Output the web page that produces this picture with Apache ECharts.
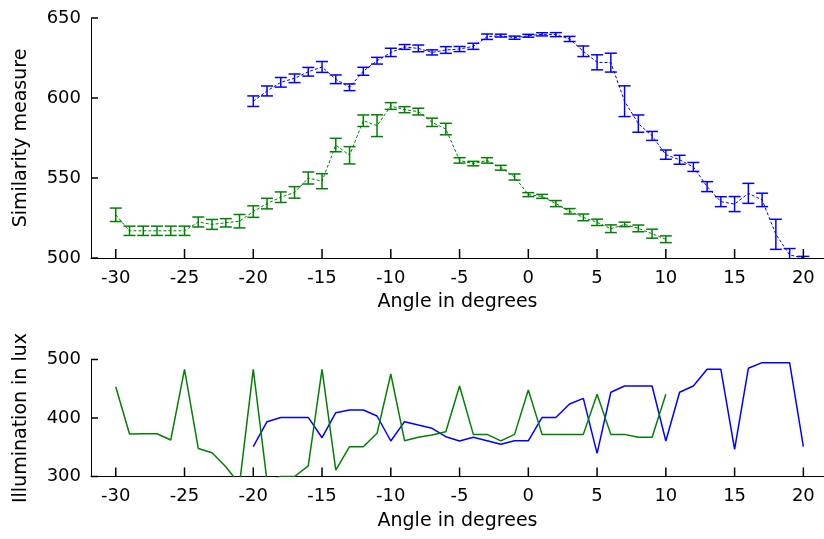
<!DOCTYPE html>
<html>
<head>
<meta charset="utf-8">
<script src="https://cdn.jsdelivr.net/npm/echarts@6/dist/echarts.min.js"></script>
<style>
html,body{margin:0;padding:0;background:#fff;}
#chart{width:824px;height:539px;}
</style>
</head>
<body>
<div id="chart"></div>
<script>
// ---- data ----
var anglesGreen = [-30,-29,-28,-27,-26,-25,-24,-23,-22,-21,-20,-19,-18,-17,-16,-15,-14,-13,-12,-11,-10,-9,-8,-7,-6,-5,-4,-3,-2,-1,0,1,2,3,4,5,6,7,8,9,10];
var anglesBlue = [-20,-19,-18,-17,-16,-15,-14,-13,-12,-11,-10,-9,-8,-7,-6,-5,-4,-3,-2,-1,0,1,2,3,4,5,6,7,8,9,10,11,12,13,14,15,16,17,18,19,20];

var simGreen = [527,517,517,517,517,517,522.5,521,522,523,529,534,538,541,550,548,570.6,564.2,585.8,582.7,595,592.7,591.5,584.8,580.6,561,559,561,556.4,550.6,539.6,538.5,534,529.2,525.4,522.3,518.3,521,518.5,515.2,511.7];
var errGreen = [4.2,2.9,2.9,2.9,2.9,2.9,3.1,3.1,2.6,4.2,3.6,3.3,3.3,3.6,3.75,4.7,4.2,5.4,3.6,6.8,2.1,1.9,2.1,2.6,3.6,1.7,1.4,1.7,1.5,1.9,1.25,1.25,1.9,1.7,2.1,2.0,2.4,1.4,2.1,2.8,2.1];

var simBlue = [598,604.4,609.8,612.3,616.4,619.4,611.7,606.7,616.7,623.3,628.5,631.9,631,628.5,630,630.6,632.3,638.3,639,637.7,638.9,639.8,639.6,636.9,629.2,622.3,622.1,598,584,576.3,564.6,561.4,556.9,544.6,535.2,533.7,540.4,536.3,514.8,501.9,500];
var errBlue = [3.3,3.1,3.0,2.7,2.7,3.4,2.7,2.1,2.5,2.1,2.6,1.5,2.1,1.6,2.1,1.6,1.9,1.7,0.9,1.0,0.9,1.0,1.25,1.6,3.3,4.7,5.9,9.6,5.4,2.8,2.9,2.8,2.8,3.1,3.1,4.7,6.25,4.2,9.4,4.0,1.0];

var luxGreen = [453.5,372.6,373,373,362.4,483,348,340.7,316.7,287,483,292,300,300,318,483,311,351,351,373.8,475.2,361.2,367,371,376.6,454.7,372,372,361,372,447.9,372,372,372,372,440.5,372,372,367,367,440.5];
var luxBlue = [351,393.7,401,401,401,366.3,409,413.7,413.7,403.4,360.7,393.7,388,382.4,368,360.7,367,361.2,355,361,361,401,401,424,433.6,339.6,444,454.7,454.7,454.7,360.7,444,454.7,483.2,483.2,346.5,485,494.6,494.6,494.6,351];

var xTicks = [-30,-25,-20,-15,-10,-5,0,5,10,15,20];
var simTicks = [500,550,600,650];
var luxTicks = [300,400,500];

var GREEN = '#008000', BLUE = '#0000ff';
var FONT = 'DejaVu Sans';
var XMIN = -31.8, XMAX = 21.5;

function pairs(xs, ys){ return xs.map(function(x,i){ return [x, ys[i]]; }); }
function triples(xs, ys, es){ return xs.map(function(x,i){ return [x, ys[i], es[i]]; }); }

function errRender(color){
  return function(params, api){
    var x = api.value(0), y = api.value(1), e = api.value(2);
    var lo = api.coord([x, y - e]);
    var hi = api.coord([x, y + e]);
    var w = 6;
    var style = {stroke: color, lineWidth: 1.5};
    return {
      type: 'group',
      children: [
        {type:'line', shape:{x1:lo[0], y1:lo[1], x2:hi[0], y2:hi[1]}, style: style},
        {type:'line', shape:{x1:lo[0]-w, y1:lo[1], x2:lo[0]+w, y2:lo[1]}, style: style},
        {type:'line', shape:{x1:hi[0]-w, y1:hi[1], x2:hi[0]+w, y2:hi[1]}, style: style}
      ]
    };
  };
}

function xAxis(gi){
  return {
    type: 'value', gridIndex: gi, min: XMIN, max: XMAX,
    name: 'Angle in degrees', nameLocation: 'middle', nameGap: 35,
    nameTextStyle: {fontFamily: FONT, fontSize: 19, color: '#000'},
    axisLine: {show: true, onZero: false, lineStyle: {color: '#000', width: 1}},
    axisTick: {show: false},
    axisLabel: {show: true, margin: 11, customValues: xTicks, fontFamily: FONT, fontSize: 18, color: '#000'},
    splitLine: {show: false}
  };
}
function yAxis(gi, name, ticks){
  return {
    type: 'value', gridIndex: gi, min: ticks[0], max: ticks[ticks.length-1],
    name: name, nameLocation: 'middle', nameGap: 60, nameRotate: 90,
    nameTextStyle: {fontFamily: FONT, fontSize: 19, color: '#000'},
    axisLine: {show: true, onZero: false, lineStyle: {color: '#000', width: 1}},
    axisTick: {show: false},
    axisLabel: {show: true, margin: 10, customValues: ticks, fontFamily: FONT, fontSize: 18, color: '#000'},
    splitLine: {show: false}
  };
}

var chart = echarts.init(document.getElementById('chart'), null, {renderer: 'canvas'});
chart.setOption({
  animation: false,
  backgroundColor: '#fff',
  grid: [
    {left: 91, top: 18, width: 733, height: 240},
    {left: 91, top: 359.5, width: 733, height: 117}
  ],
  xAxis: [xAxis(0), xAxis(1)],
  yAxis: [yAxis(0, 'Similarity measure', simTicks), yAxis(1, 'Illumination in lux', luxTicks)],
  series: [
    {type: 'line', xAxisIndex: 0, yAxisIndex: 0, data: pairs(anglesBlue, simBlue), showSymbol: false,
     lineStyle: {color: BLUE, width: 1, type: [3, 2]}, clip: true},
    {type: 'custom', xAxisIndex: 0, yAxisIndex: 0, data: triples(anglesBlue, simBlue, errBlue),
     renderItem: errRender(BLUE), clip: true},
    {type: 'line', xAxisIndex: 0, yAxisIndex: 0, data: pairs(anglesGreen, simGreen), showSymbol: false,
     lineStyle: {color: GREEN, width: 1, type: [3, 2]}, clip: true},
    {type: 'custom', xAxisIndex: 0, yAxisIndex: 0, data: triples(anglesGreen, simGreen, errGreen),
     renderItem: errRender(GREEN), clip: true},
    {type: 'line', xAxisIndex: 1, yAxisIndex: 1, data: pairs(anglesBlue, luxBlue), showSymbol: false,
     lineStyle: {color: BLUE, width: 1.5}, clip: true},
    {type: 'line', xAxisIndex: 1, yAxisIndex: 1, data: pairs(anglesGreen, luxGreen), showSymbol: false,
     lineStyle: {color: GREEN, width: 1.5}, clip: true}
  ]
});

// inward tick marks, positioned through the library's own scales (convertToPixel)
var tickEls = [];
function addTicks(gi, yTicks){
  xTicks.forEach(function(v){
    var p = chart.convertToPixel({gridIndex: gi}, [v, yTicks[0]]);
    tickEls.push({type: 'line', z: 100, silent: true,
      shape: {x1: p[0], y1: p[1], x2: p[0], y2: p[1] - 9},
      style: {stroke: '#000', lineWidth: 1.5}});
  });
  yTicks.forEach(function(v){
    var p = chart.convertToPixel({gridIndex: gi}, [XMIN, v]);
    tickEls.push({type: 'line', z: 100, silent: true,
      shape: {x1: p[0], y1: p[1], x2: p[0] + 7, y2: p[1]},
      style: {stroke: '#000', lineWidth: 1.5}});
  });
}
addTicks(0, simTicks);
addTicks(1, luxTicks);
chart.setOption({graphic: {elements: tickEls}});
</script>
</body>
</html>
